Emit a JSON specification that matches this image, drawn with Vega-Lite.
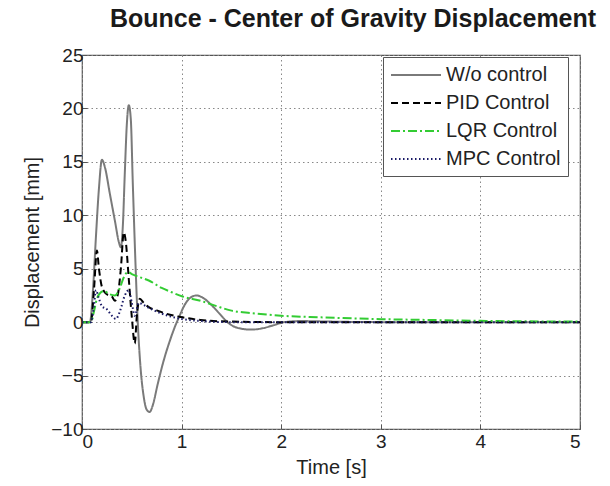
{
  "$schema": "https://vega.github.io/schema/vega-lite/v6.json",
  "width": 498,
  "height": 374,
  "autosize": "none",
  "padding": {"left": 82, "top": 55, "right": 30, "bottom": 57},
  "background": "white",
  "title": {"text": "Bounce - Center of Gravity Displacement", "font": "Liberation Sans", "fontSize": 25, "fontWeight": "bold", "color": "#1a1a1a", "anchor": "middle", "offset": 14, "dx": 22},
  "config": {
    "view": {"stroke": "#555", "strokeWidth": 1.2},
    "axis": {"labelFont": "Liberation Sans", "titleFont": "Liberation Sans", "labelFontSize": 19, "titleFontSize": 20, "titleFontWeight": "normal", "labelColor": "#222", "titleColor": "#222", "grid": true, "gridColor": "#888", "gridDash": [1.5, 3], "gridWidth": 1, "domain": false, "ticks": true, "tickSize": -5, "tickColor": "#555"},
    "legend": {"labelFont": "Liberation Sans", "labelFontSize": 20, "labelColor": "#222"}
  },
  "data": {"values": [
    {"s": "W/o control", "t": 0, "v": 0}, {"s": "W/o control", "t": 0.08, "v": 0}, {"s": "W/o control", "t": 0.11, "v": 3}, {"s": "W/o control", "t": 0.14, "v": 8}, {"s": "W/o control", "t": 0.17, "v": 12.5}, {"s": "W/o control", "t": 0.2, "v": 15.2}, {"s": "W/o control", "t": 0.23, "v": 14.5}, {"s": "W/o control", "t": 0.28, "v": 12}, {"s": "W/o control", "t": 0.33, "v": 9.5}, {"s": "W/o control", "t": 0.37, "v": 7.5}, {"s": "W/o control", "t": 0.39, "v": 7}, {"s": "W/o control", "t": 0.41, "v": 9}, {"s": "W/o control", "t": 0.43, "v": 14}, {"s": "W/o control", "t": 0.45, "v": 18.5}, {"s": "W/o control", "t": 0.47, "v": 20.3}, {"s": "W/o control", "t": 0.49, "v": 19}, {"s": "W/o control", "t": 0.51, "v": 13}, {"s": "W/o control", "t": 0.535, "v": 6}, {"s": "W/o control", "t": 0.56, "v": 0}, {"s": "W/o control", "t": 0.59, "v": -4.5}, {"s": "W/o control", "t": 0.62, "v": -7}, {"s": "W/o control", "t": 0.65, "v": -8.2}, {"s": "W/o control", "t": 0.68, "v": -8.4}, {"s": "W/o control", "t": 0.71, "v": -7.8}, {"s": "W/o control", "t": 0.76, "v": -5.8}, {"s": "W/o control", "t": 0.82, "v": -3.6}, {"s": "W/o control", "t": 0.88, "v": -1.8}, {"s": "W/o control", "t": 0.93, "v": -0.5}, {"s": "W/o control", "t": 0.98, "v": 0.6}, {"s": "W/o control", "t": 1.03, "v": 1.6}, {"s": "W/o control", "t": 1.09, "v": 2.3}, {"s": "W/o control", "t": 1.15, "v": 2.5}, {"s": "W/o control", "t": 1.21, "v": 2.3}, {"s": "W/o control", "t": 1.3, "v": 1.6}, {"s": "W/o control", "t": 1.38, "v": 0.8}, {"s": "W/o control", "t": 1.46, "v": 0}, {"s": "W/o control", "t": 1.55, "v": -0.5}, {"s": "W/o control", "t": 1.69, "v": -0.7}, {"s": "W/o control", "t": 1.8, "v": -0.6}, {"s": "W/o control", "t": 1.92, "v": -0.3}, {"s": "W/o control", "t": 2.03, "v": 0}, {"s": "W/o control", "t": 2.2, "v": 0.1}, {"s": "W/o control", "t": 2.5, "v": 0.05}, {"s": "W/o control", "t": 3, "v": 0}, {"s": "W/o control", "t": 4, "v": 0}, {"s": "W/o control", "t": 5, "v": 0},
    {"s": "PID Control", "t": 0, "v": 0}, {"s": "PID Control", "t": 0.09, "v": 0}, {"s": "PID Control", "t": 0.12, "v": 3}, {"s": "PID Control", "t": 0.15, "v": 6.7}, {"s": "PID Control", "t": 0.17, "v": 5}, {"s": "PID Control", "t": 0.2, "v": 3.3}, {"s": "PID Control", "t": 0.25, "v": 2.6}, {"s": "PID Control", "t": 0.3, "v": 2.4}, {"s": "PID Control", "t": 0.33, "v": 2.0}, {"s": "PID Control", "t": 0.36, "v": 2.6}, {"s": "PID Control", "t": 0.39, "v": 5}, {"s": "PID Control", "t": 0.42, "v": 8.4}, {"s": "PID Control", "t": 0.44, "v": 7.5}, {"s": "PID Control", "t": 0.47, "v": 4}, {"s": "PID Control", "t": 0.5, "v": 0.5}, {"s": "PID Control", "t": 0.53, "v": -2}, {"s": "PID Control", "t": 0.55, "v": 0.5}, {"s": "PID Control", "t": 0.58, "v": 2.2}, {"s": "PID Control", "t": 0.62, "v": 1.8}, {"s": "PID Control", "t": 0.67, "v": 1.4}, {"s": "PID Control", "t": 0.75, "v": 1.1}, {"s": "PID Control", "t": 0.84, "v": 0.8}, {"s": "PID Control", "t": 1.01, "v": 0.45}, {"s": "PID Control", "t": 1.19, "v": 0.2}, {"s": "PID Control", "t": 1.5, "v": 0.05}, {"s": "PID Control", "t": 2, "v": 0}, {"s": "PID Control", "t": 5, "v": 0},
    {"s": "LQR Control", "t": 0, "v": 0}, {"s": "LQR Control", "t": 0.09, "v": 0}, {"s": "LQR Control", "t": 0.12, "v": 1}, {"s": "LQR Control", "t": 0.15, "v": 2.2}, {"s": "LQR Control", "t": 0.18, "v": 2.7}, {"s": "LQR Control", "t": 0.22, "v": 2.9}, {"s": "LQR Control", "t": 0.28, "v": 2.6}, {"s": "LQR Control", "t": 0.33, "v": 2.5}, {"s": "LQR Control", "t": 0.38, "v": 3.2}, {"s": "LQR Control", "t": 0.42, "v": 4.2}, {"s": "LQR Control", "t": 0.46, "v": 4.7}, {"s": "LQR Control", "t": 0.5, "v": 4.5}, {"s": "LQR Control", "t": 0.58, "v": 4.2}, {"s": "LQR Control", "t": 0.67, "v": 3.9}, {"s": "LQR Control", "t": 0.8, "v": 3.2}, {"s": "LQR Control", "t": 0.9, "v": 2.8}, {"s": "LQR Control", "t": 1.01, "v": 2.4}, {"s": "LQR Control", "t": 1.19, "v": 2.0}, {"s": "LQR Control", "t": 1.35, "v": 1.5}, {"s": "LQR Control", "t": 1.49, "v": 1.1}, {"s": "LQR Control", "t": 1.7, "v": 0.85}, {"s": "LQR Control", "t": 2.0, "v": 0.6}, {"s": "LQR Control", "t": 2.4, "v": 0.45}, {"s": "LQR Control", "t": 3.0, "v": 0.28}, {"s": "LQR Control", "t": 3.5, "v": 0.2}, {"s": "LQR Control", "t": 4, "v": 0.12}, {"s": "LQR Control", "t": 5, "v": 0.05},
    {"s": "MPC Control", "t": 0, "v": 0}, {"s": "MPC Control", "t": 0.09, "v": 0}, {"s": "MPC Control", "t": 0.12, "v": 1.5}, {"s": "MPC Control", "t": 0.14, "v": 3.0}, {"s": "MPC Control", "t": 0.17, "v": 2.2}, {"s": "MPC Control", "t": 0.2, "v": 1.5}, {"s": "MPC Control", "t": 0.25, "v": 1.2}, {"s": "MPC Control", "t": 0.3, "v": 0.6}, {"s": "MPC Control", "t": 0.34, "v": 0.3}, {"s": "MPC Control", "t": 0.38, "v": 1.0}, {"s": "MPC Control", "t": 0.43, "v": 2.5}, {"s": "MPC Control", "t": 0.47, "v": 3.0}, {"s": "MPC Control", "t": 0.5, "v": 1.8}, {"s": "MPC Control", "t": 0.53, "v": 0.6}, {"s": "MPC Control", "t": 0.57, "v": 1.8}, {"s": "MPC Control", "t": 0.62, "v": 1.6}, {"s": "MPC Control", "t": 0.7, "v": 1.2}, {"s": "MPC Control", "t": 0.8, "v": 0.8}, {"s": "MPC Control", "t": 0.9, "v": 0.5}, {"s": "MPC Control", "t": 1.0, "v": 0.3}, {"s": "MPC Control", "t": 1.2, "v": 0.1}, {"s": "MPC Control", "t": 1.5, "v": 0}, {"s": "MPC Control", "t": 5, "v": 0}
  ]},
  "mark": {"type": "line", "interpolate": "monotone", "strokeWidth": 2, "clip": true},
  "encoding": {
    "x": {"field": "t", "type": "quantitative", "title": "Time [s]", "scale": {"domain": [0, 5], "nice": false}, "axis": {"values": [0, 1, 2, 3, 4, 5], "labelPadding": 8, "titlePadding": 6}},
    "y": {"field": "v", "type": "quantitative", "title": "Displacement [mm]", "scale": {"domain": [-10, 25], "nice": false, "zero": false}, "axis": {"values": [-10, -5, 0, 5, 10, 15, 20, 25], "labelPadding": 4, "titlePadding": 8}},
    "color": {"field": "s", "type": "nominal", "scale": {"domain": ["W/o control", "PID Control", "LQR Control", "MPC Control"], "range": ["#7a7a7a", "#000000", "#33cc33", "#1a1a66"]}, "legend": {"title": null, "orient": "none", "legendX": 301, "legendY": 2, "strokeColor": "#555", "fillColor": "white", "padding": 7, "symbolType": "M-1,0H4", "symbolSize": 400, "symbolStrokeWidth": 2, "rowPadding": 7, "labelOffset": 34}},
    "strokeDash": {"field": "s", "type": "nominal", "scale": {"domain": ["W/o control", "PID Control", "LQR Control", "MPC Control"], "range": [[1, 0], [7, 4], [9, 3, 2, 3], [1.5, 2.5]]}, "legend": null},
    "order": {"field": "t", "type": "quantitative"}
  }
}
